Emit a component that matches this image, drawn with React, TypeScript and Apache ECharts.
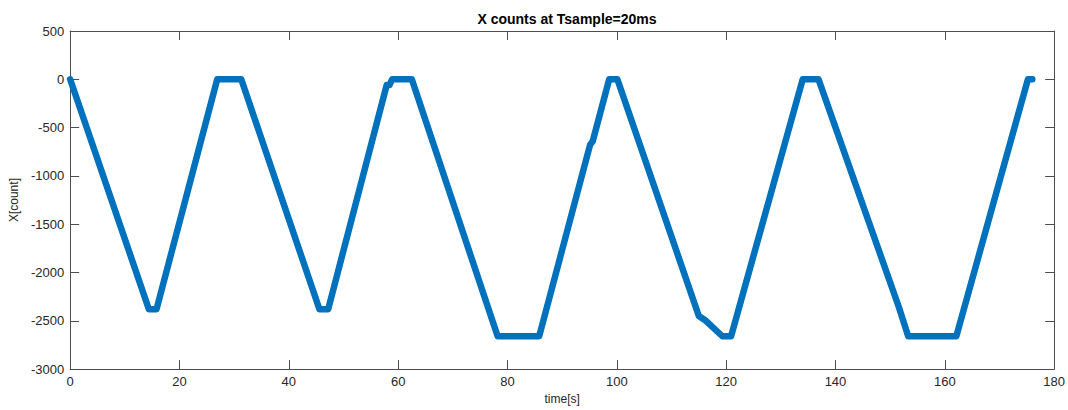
import React, { useEffect, useRef } from "react";
import * as echarts from "echarts";

const timeS = [0, 14.4, 15.8, 26.9, 31.3, 45.6, 47.2, 57.9, 58.4, 58.9, 62.5, 78.2, 85.8, 95.1, 95.6, 98.6, 100.1, 115.0, 116.3, 119.3, 120.9, 134.0, 136.9, 151.6, 153.3, 162.1, 175.2, 176.0];
const counts = [0, -2380, -2380, 0, 0, -2380, -2380, -60, -60, 0, 0, -2660, -2660, -680, -640, 0, 0, -2450, -2500, -2660, -2660, 0, 0, -2360, -2660, -2660, 0, 0];
const xTicks = [0, 20, 40, 60, 80, 100, 120, 140, 160, 180];
const yTicks = [-3000, -2500, -2000, -1500, -1000, -500, 0, 500];

const axisColor = "#4d4d4d";
const font = "Liberation Sans, Arial, Helvetica, sans-serif";

export default function App() {
  const ref = useRef<HTMLDivElement>(null);
  useEffect(() => {
    if (!ref.current) return;
    const chart = echarts.init(ref.current, undefined, { renderer: "svg" });
    const data = timeS.map((t, i) => [t, counts[i]]);
    const lineStyle = { color: axisColor, width: 1 };
    const axisLine = { show: true, onZero: false, lineStyle };
    const tickStyle = { inside: true, length: 9, lineStyle: { color: axisColor, width: 1 } };
    const labelStyle = { fontFamily: font, fontSize: 13, color: "#262626", margin: 6, formatter: (v: number) => String(v) };
    chart.setOption({
      animation: false,
      backgroundColor: "#ffffff",
      title: {
        text: "X counts at Tsample=20ms",
        left: 562,
        textAlign: "center",
        top: 7,
        textStyle: { fontFamily: font, fontSize: 14, fontWeight: "bold", color: "#000" },
      },
      grid: { left: 69, right: 12, top: 31, bottom: 37, containLabel: false },
      xAxis: [
        {
          type: "value",
          min: xTicks[0],
          max: xTicks[xTicks.length - 1],
          interval: 20,
          position: "bottom",
          name: "time[s]",
          nameLocation: "middle",
          nameGap: 23,
          nameTextStyle: { fontFamily: font, fontSize: 12, color: "#262626" },
          axisLine,
          axisTick: tickStyle,
          axisLabel: labelStyle,
          splitLine: { show: false },
        },
        {
          type: "value",
          min: xTicks[0],
          max: xTicks[xTicks.length - 1],
          interval: 20,
          position: "top",
          axisLine,
          axisTick: tickStyle,
          axisLabel: { show: false },
          splitLine: { show: false },
        },
      ],
      yAxis: [
        {
          type: "value",
          min: yTicks[0],
          max: yTicks[yTicks.length - 1],
          interval: 500,
          position: "left",
          name: "X[count]",
          nameLocation: "middle",
          nameGap: 48,
          nameRotate: 90,
          nameTextStyle: { fontFamily: font, fontSize: 12, color: "#262626" },
          axisLine,
          axisTick: tickStyle,
          axisLabel: labelStyle,
          splitLine: { show: false },
        },
        {
          type: "value",
          min: yTicks[0],
          max: yTicks[yTicks.length - 1],
          interval: 500,
          position: "right",
          axisLine,
          axisTick: tickStyle,
          axisLabel: { show: false },
          splitLine: { show: false },
        },
      ],
      series: [
        {
          type: "line",
          data,
          xAxisIndex: 0,
          yAxisIndex: 0,
          showSymbol: false,
          symbol: "none",
          lineStyle: { color: "#0072BD", width: 6.5, cap: "round", join: "round" },
        },
      ],
    });
    return () => chart.dispose();
  }, []);
  return <div ref={ref} style={{ width: 1068, height: 410, position: "absolute", left: 0, top: 0 }} />;
}
